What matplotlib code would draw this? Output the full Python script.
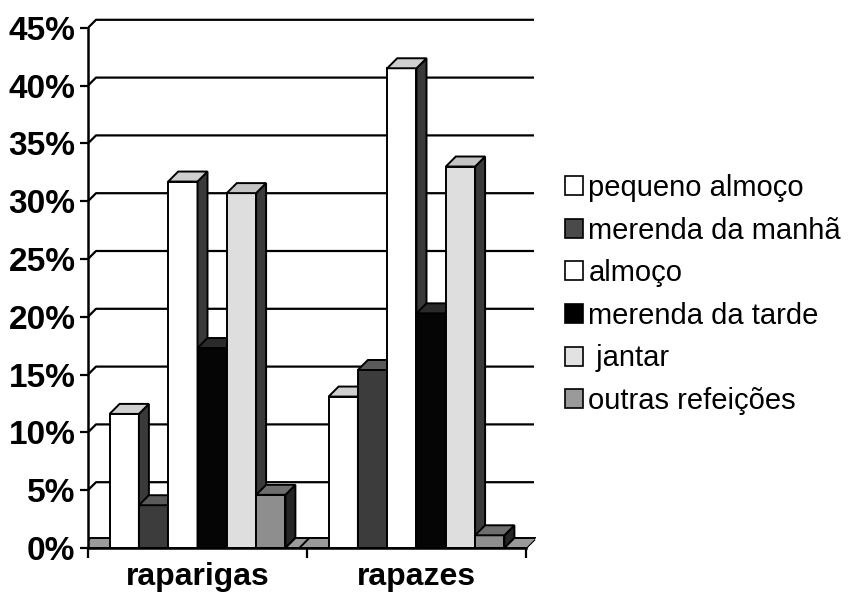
import matplotlib
matplotlib.use("Agg")
import matplotlib.pyplot as plt
from matplotlib.patches import Polygon, Patch

plt.rcParams['font.family'] = ['Liberation Sans', 'DejaVu Sans']

# ---- data -------------------------------------------------------------
categorias = ["raparigas", "rapazes"]
refeicoes = ["pequeno almoço", "merenda da manhã", "almoço",
             "merenda da tarde", " jantar", "outras refeições"]
pequeno_almoco = [11.6, 13.1]
merenda_manha = [3.7, 15.4]
almoco = [31.7, 41.5]
merenda_tarde = [17.3, 20.3]
jantar = [30.7, 33.0]
outras = [4.6, 1.1]
vazio = [0.0, 0.0]          # empty slots that close each cluster
y_ticks = [0, 5, 10, 15, 20, 25, 30, 35, 40, 45]

# face colours per series: (front, top, side)
cores = [
    ("#8a8a8a", "#9a9a9a", "#333333"),   # empty slot
    ("#ffffff", "#cfcfcf", "#3a3a3a"),   # pequeno almoço
    ("#3c3c3c", "#5a5a5a", "#262626"),   # merenda da manhã
    ("#ffffff", "#cfcfcf", "#3a3a3a"),   # almoço
    ("#050505", "#2a2a2a", "#111111"),   # merenda da tarde
    ("#dedede", "#c4c4c4", "#3a3a3a"),   # jantar
    ("#8e8e8e", "#6e6e6e", "#262626"),   # outras refeições
    ("#8a8a8a", "#9a9a9a", "#333333"),   # empty slot
]
legenda_cores = ["#ffffff", "#4a4a4a", "#ffffff", "#000000", "#e2e2e2", "#9a9a9a"]

series = [vazio, pequeno_almoco, merenda_manha, almoco,
          merenda_tarde, jantar, outras, vazio]

# ---- geometry ---------------------------------------------------------
W, H = 849, 599
XPX = 219.0          # pixels per category
YPX = 57.8 / 5       # pixels per percentage point
x0_px, y0_px = 88, 548
xmax, ymax = 2.12, 46.5

fig = plt.figure(figsize=(W / 100, H / 100), dpi=100)
ax = fig.add_axes([x0_px / W, (H - y0_px) / H,
                   xmax * XPX / W, ymax * YPX / H])
ax.set_xlim(0, xmax)
ax.set_ylim(0, ymax)

step = 29.3 / XPX
bw = step
bdx, bdy = 10 / XPX, 10 / YPX      # bar depth
wdx, wdy = 8 / XPX, 8 / YPX        # wall depth
n_cat = len(categorias)

# back wall gridlines and floor
for v in y_ticks:
    ax.plot([0, wdx, n_cat + wdx], [v, v + wdy, v + wdy],
            color="black", lw=1.6, zorder=0.5, solid_capstyle="butt")
ax.plot([n_cat, n_cat + wdx], [0, wdy], color="black", lw=1.6, zorder=0.5)

clip = Polygon([(0, 0), (n_cat, 0), (n_cat + bdx, bdy), (n_cat + bdx, 60), (0, 60)],
               closed=True, transform=ax.transData, fill=False, visible=False)
ax.add_patch(clip)

z = 1
for ci in range(n_cat):
    centre = ci + 0.5
    for si, vals in enumerate(series):
        v = vals[ci]
        left = centre + (si - 4) * step
        right = left + bw
        front_c, top_c, side_c = cores[si]
        faces = [
            ([(left, 0), (right, 0), (right, v), (left, v)], front_c),
            ([(right, 0), (right + bdx, bdy), (right + bdx, v + bdy), (right, v)], side_c),
            ([(left, v), (right, v), (right + bdx, v + bdy), (left + bdx, v + bdy)], top_c),
        ]
        for pts, fc in faces:
            p = Polygon(pts, closed=True, facecolor=fc, edgecolor="black",
                        lw=1.4, joinstyle="miter", zorder=z)
            ax.add_patch(p)
            p.set_clip_path(clip)
        z += 1

# ---- axes styling -----------------------------------------------------
for s in ("top", "right"):
    ax.spines[s].set_visible(False)
ax.spines["left"].set_bounds(0, 45)
ax.spines["bottom"].set_bounds(0, n_cat)
for s in ("left", "bottom"):
    ax.spines[s].set_linewidth(1.8)
    ax.spines[s].set_zorder(50)

ax.set_yticks(y_ticks)
ax.set_yticklabels([f"{t}%" for t in y_ticks], fontsize=24, fontweight="bold")
ax.tick_params(axis="y", direction="out", length=6, width=1.6, pad=3)

ax.set_xticks(range(n_cat + 1))
ax.set_xticklabels([])
ax.tick_params(axis="x", which="major", direction="out", length=7, width=1.6)
ax.set_xticks([c + 0.5 for c in range(n_cat)], minor=True)
ax.set_xticklabels(categorias, minor=True, fontsize=23, fontweight="bold")
ax.tick_params(axis="x", which="minor", length=0, pad=10)

handles = [Patch(facecolor=c, edgecolor="black", lw=1.2) for c in legenda_cores]
fig.legend(handles, refeicoes, loc="upper left",
           bbox_to_anchor=(565 / W, 1 - 174 / H), frameon=False,
           fontsize=21, handlelength=0.62, handleheight=0.62,
           handletextpad=0.18, labelspacing=0.5, borderpad=0, borderaxespad=0)

fig.savefig("out.png", dpi=100)
